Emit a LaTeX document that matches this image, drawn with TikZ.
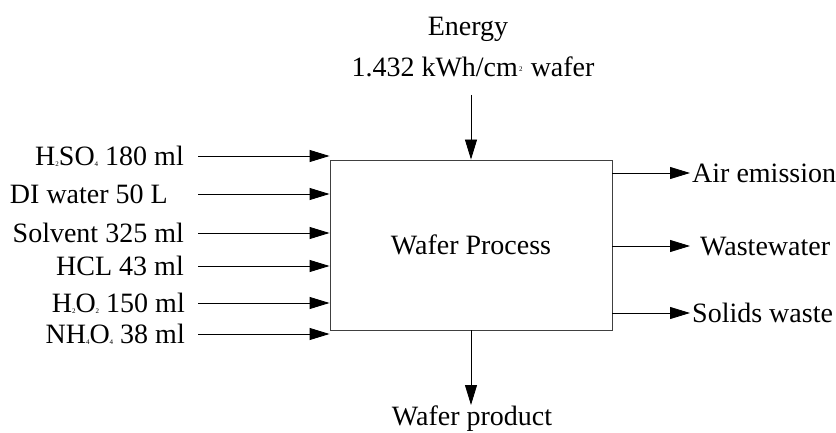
\documentclass[tikz,border=0pt]{standalone}
\usepackage{fontspec}
\setmainfont{Liberation Serif}
\usetikzlibrary{arrows.meta}
\newcommand{\chsub}[1]{\raisebox{-1pt}{\fontsize{7}{7}\selectfont #1}}
\newcommand{\chsup}[1]{\raisebox{5pt}{\fontsize{7}{7}\selectfont\,#1\,}}
\tikzset{
  flow/.style={draw=black, line width=0.9pt, -{Triangle[length=20pt,width=12pt]}},
  flow label/.style={font=\fontsize{28}{33}\selectfont, inner sep=0pt, text depth=0pt},
  process box/.style={draw=black!75, line width=0.9pt, minimum width=282pt, minimum height=170pt, inner sep=0pt},
}

\begin{document}
\begin{tikzpicture}[x=10pt,y=10pt]
  \useasboundingbox (0,0) rectangle (83.6,43.2);
  \node[process box, flow label] (box) at (47.1,18.7) {Wafer Process};

  % inputs
  \node[flow label, anchor=east] (h2so4) at (18.4,27.6) {H\chsub{2}SO\chsub{4} 180 ml};
  \node[flow label, anchor=east] (diwater) at (16.8,23.8) {DI water 50 L};
  \node[flow label, anchor=east] (solvent) at (18.4,19.9) {Solvent 325 ml};
  \node[flow label, anchor=east] (hcl) at (18.4,16.6) {HCL 43 ml};
  \node[flow label, anchor=east] (h2o2) at (18.5,12.9) {H\chsub{2}O\chsub{2} 150 ml};
  \node[flow label, anchor=east] (nh4o4) at (18.5,9.8) {NH\chsub{4}O\chsub{4} 38 ml};
  \coordinate (in1) at (19.8,27.6);
  \coordinate (in2) at (19.8,23.8);
  \coordinate (in3) at (19.8,19.9);
  \coordinate (in4) at (19.8,16.6);
  \coordinate (in5) at (19.8,12.9);
  \coordinate (in6) at (19.8,9.8);
  \draw[flow] (in1) -- (in1 -| box.west);
  \draw[flow] (in2) -- (in2 -| box.west);
  \draw[flow] (in3) -- (in3 -| box.west);
  \draw[flow] (in4) -- (in4 -| box.west);
  \draw[flow] (in5) -- (in5 -| box.west);
  \draw[flow] (in6) -- (in6 -| box.west);

  % energy
  \node[flow label] (energy) at (46.8,40.6) {Energy};
  \node[flow label] (kwh) at (47.3,36.5) {1.432 kWh/cm\chsup{2} wafer};
  \coordinate (etop) at (47.1,33.7);
  \draw[flow] (etop) -- (box.north);

  % outputs
  \coordinate (out1) at (69.0,25.9);
  \coordinate (out2) at (69.0,18.6);
  \coordinate (out3) at (69.0,11.9);
  \node[flow label, anchor=west] (air) at (69.2,25.9) {Air emission};
  \node[flow label, anchor=west] (wastewater) at (70.0,18.6) {Wastewater};
  \node[flow label, anchor=west] (solids) at (69.2,11.9) {Solids waste};
  \draw[flow] (out1 -| box.east) -- (out1);
  \draw[flow] (out2 -| box.east) -- (out2);
  \draw[flow] (out3 -| box.east) -- (out3);

  % product
  \coordinate (pbot) at (47.1,2.7);
  \node[flow label] (product) at (47.2,1.6) {Wafer product};
  \draw[flow] (box.south) -- (pbot);
\end{tikzpicture}
\end{document}
